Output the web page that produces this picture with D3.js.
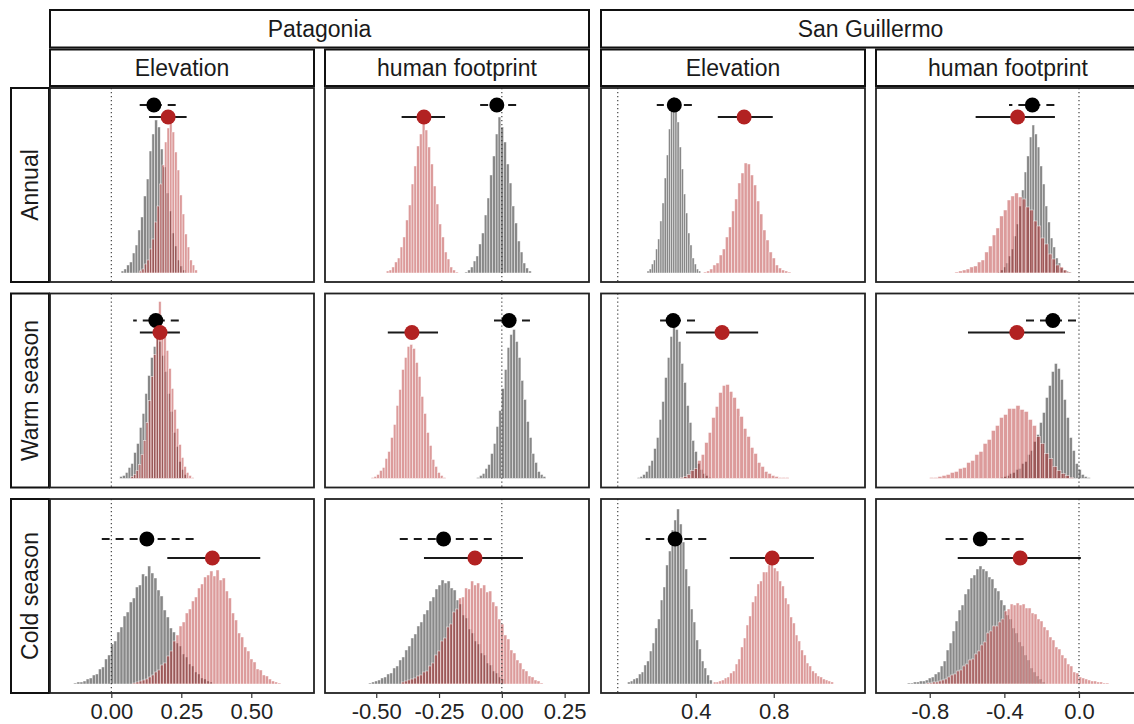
<!DOCTYPE html>
<html><head><meta charset="utf-8">
<script src="https://cdn.jsdelivr.net/npm/d3@7"></script>
<style>body{margin:0;background:#fff} text{font-family:Arial,"Liberation Sans",sans-serif}</style>
</head><body><svg id="c" width="1134" height="724"></svg>
<script>
// ---------------- data ----------------
const regions = ["Patagonia", "San Guillermo"];
const covariates = ["Elevation", "human footprint", "Elevation", "human footprint"];
const seasons = ["Annual", "Warm season", "Cold season"];
const colDomains = [[-0.219, 0.724], [-0.704, 0.347], [-0.086, 1.268], [-1.088, 0.327]];
const colTicks = [[0, 0.25, 0.5], [-0.5, -0.25, 0, 0.25], [0.4, 0.8], [-0.8, -0.4, 0]];
const colTickLabels = [["0.00", "0.25", "0.50"], ["-0.50", "-0.25", "0.00", "0.25"], ["0.4", "0.8"], ["-0.8", "-0.4", "0.0"]];
const yMaxCount = 176;

// point estimates [row][col] = [mean, lower, upper]
const blackEst = [
  [[0.152, 0.099, 0.23], [-0.02, -0.091, 0.057], [0.29, 0.20, 0.38], [-0.25, -0.375, -0.132]],
  [[0.159, 0.078, 0.241], [0.029, -0.035, 0.112], [0.284, 0.217, 0.396], [-0.14, -0.29, -0.016]],
  [[0.127, -0.034, 0.294], [-0.232, -0.427, -0.04], [0.294, 0.143, 0.454], [-0.529, -0.74, -0.297]]
];
const redEst = [
  [[0.203, 0.135, 0.269], [-0.31, -0.399, -0.226], [0.648, 0.513, 0.795], [-0.329, -0.554, -0.129]],
  [[0.174, 0.102, 0.245], [-0.358, -0.454, -0.254], [0.535, 0.35, 0.72], [-0.333, -0.595, -0.075]],
  [[0.361, 0.2, 0.532], [-0.107, -0.31, 0.084], [0.792, 0.575, 1.006], [-0.315, -0.65, 0.01]]
];
// vertical position (count units) of the estimate markers per row
const blackPointY = [168, 158, 145];
const redPointY = [156, 146, 126];

// histograms: bin start, bin width, counts
const blackHist = [
  [
    {start: 0.035, width: 0.01, counts: [2,4,8,11,20,28,43,56,77,94,122,139,153,146,124,106,80,62,40,27,13,7,3]},
    {start: -0.147, width: 0.011, counts: [1,3,6,12,17,29,40,58,75,98,117,139,156,146,131,109,90,67,50,32,21,10,5,2]},
    {start: 0.15, width: 0.011, counts: [2,4,9,13,24,34,52,70,95,118,144,162,176,167,151,126,104,79,60,40,28,15,9,4,2]},
    {start: -0.434, width: 0.014, counts: [1,3,6,10,17,24,37,49,67,83,101,117,136,148,139,126,107,89,67,51,35,26,15,10,5,3,2,1]}
  ],
  [
    {start: 0.03, width: 0.01, counts: [2,3,6,11,15,26,35,51,65,85,103,121,132,140,137,123,107,85,67,46,32,17,9,4]},
    {start: -0.10, width: 0.011, counts: [1,3,5,10,14,25,35,52,68,90,109,131,144,149,137,121,98,79,57,41,25,16,7,4,2]},
    {start: 0.10, width: 0.014, counts: [1,2,4,7,13,18,30,41,59,77,101,121,142,154,149,137,115,96,73,56,38,27,15,9,5,3,1]},
    {start: -0.42, width: 0.016, counts: [1,2,3,5,6,9,10,15,17,24,28,37,44,56,66,81,93,107,115,110,99,79,61,41,28,15,9,4,2,1]}
  ],
  [
    {start: -0.134, width: 0.011, counts: [1,2,2,3,5,6,9,10,15,17,25,29,40,43,52,57,68,72,82,86,97,99,110,108,118,111,106,94,88,74,67,56,52,41,38,30,27,20,18,12,10,6,5,3,2]},
    {start: -0.53, width: 0.012, counts: [1,2,3,4,6,7,10,11,16,18,24,27,34,38,46,50,58,62,70,74,83,87,95,99,104,101,103,96,94,84,80,69,66,55,51,43,40,31,29,21,19,13,11,7,5]},
    {start: 0.05, width: 0.014, counts: [2,3,5,6,10,12,19,23,33,41,56,65,84,97,119,133,154,164,175,160,142,115,98,75,62,44,35,23,16,9,4]},
    {start: -0.92, width: 0.016, counts: [1,1,2,2,3,3,4,6,7,10,12,18,23,34,41,53,63,74,79,90,95,106,109,115,118,115,113,107,105,96,93,84,79,69,65,56,51,42,38,29,24,16,12,8,5,2]}
  ]
];
const redHist = [
  [
    {start: 0.10, width: 0.009, counts: [2,4,9,13,24,34,51,67,89,108,131,145,150,141,121,103,78,59,39,26,13,8,3]},
    {start: -0.46, width: 0.011, counts: [2,3,6,11,15,26,36,53,68,89,107,127,139,158,143,126,109,87,69,49,36,21,14,6,3,1]},
    {start: 0.44, width: 0.016, counts: [1,2,4,8,10,18,24,36,46,62,74,90,100,110,109,98,88,72,59,43,33,21,15,8,5,3,2,1]},
    {start: -0.665, width: 0.02, counts: [1,2,3,4,6,7,11,13,21,27,38,45,57,63,73,77,80,76,74,66,63,52,47,35,29,19,14,8,6,3,1]}
  ],
  [
    {start: 0.07, width: 0.009, counts: [2,4,8,14,24,38,56,78,102,124,140,177,146,142,128,110,90,69,50,34,21,12,6,3,1]},
    {start: -0.52, width: 0.011, counts: [1,2,4,8,11,20,27,41,54,73,89,109,121,132,134,130,116,102,82,65,46,33,19,12,6,3,1]},
    {start: 0.32, width: 0.018, counts: [1,2,4,8,10,18,24,36,46,61,72,86,93,94,87,81,70,62,50,42,31,25,16,12,7,5,3,2,1,1,1]},
    {start: -0.80, width: 0.022, counts: [1,1,2,3,4,6,7,10,11,16,18,24,27,35,39,48,53,61,64,70,70,73,69,67,59,53,42,35,25,20,12,8,5,3,1]}
  ],
  [
    {start: 0.077, width: 0.011, counts: [1,2,3,4,5,7,9,12,14,19,21,28,33,43,49,58,62,71,75,83,87,96,100,107,109,113,108,114,104,106,93,86,71,64,51,47,37,33,25,22,15,14,9,8,5,3,2,1]},
    {start: -0.40, width: 0.012, counts: [2,3,4,5,6,8,9,12,13,18,21,29,33,43,46,57,60,72,75,86,87,96,95,103,99,101,96,99,92,93,82,78,65,60,49,45,34,31,24,21,15,13,8,7,4,3,1]},
    {start: 0.49, width: 0.014, counts: [2,2,3,4,6,7,11,13,20,25,37,46,59,68,82,88,100,103,112,112,119,120,116,113,103,98,86,80,67,61,49,43,34,29,21,18,13,11,8,7,5,4,3,2]},
    {start: -0.817, width: 0.016, counts: [1,1,2,2,3,4,5,7,9,10,13,14,18,20,24,25,30,33,39,42,51,53,58,58,62,65,73,75,80,79,81,79,80,76,76,71,70,65,63,57,54,47,44,37,35,29,26,20,18,12,11,7,6,5,4,3,3,2,2,1,1]}
  ]
];

// ---------------- layout ----------------
const colX = [[50, 314], [325, 589], [601, 865], [876, 1140]];
const rowY = [[88, 282], [293.5, 487.5], [499, 693]];
const stripFont = 23, tickFont = 22;
const blackFill = "#111111", redFill = "#B22222";

const svg = d3.select("#c");
const defs = svg.append("defs");

// region strips
regions.forEach((reg, i) => {
  const x0 = colX[i * 2][0], x1 = colX[i * 2 + 1][1];
  svg.append("rect").attr("x", x0).attr("y", 10).attr("width", x1 - x0).attr("height", 37.5)
    .attr("fill", "#fff").attr("stroke", "#111").attr("stroke-width", 2);
  svg.append("text").attr("x", (x0 + x1) / 2).attr("y", 29).attr("dy", "0.35em")
    .attr("text-anchor", "middle").attr("font-size", stripFont).attr("fill", "#1a1a1a").text(reg);
});
// covariate strips
covariates.forEach((cv, c) => {
  const [x0, x1] = colX[c];
  svg.append("rect").attr("x", x0).attr("y", 49.5).attr("width", x1 - x0).attr("height", 36.5)
    .attr("fill", "#fff").attr("stroke", "#111").attr("stroke-width", 2);
  svg.append("text").attr("x", (x0 + x1) / 2).attr("y", 68).attr("dy", "0.35em")
    .attr("text-anchor", "middle").attr("font-size", stripFont).attr("fill", "#1a1a1a").text(cv);
});
// season strips
seasons.forEach((s, r) => {
  const [y0, y1] = rowY[r];
  svg.append("rect").attr("x", 11).attr("y", y0).attr("width", 38).attr("height", y1 - y0)
    .attr("fill", "#fff").attr("stroke", "#111").attr("stroke-width", 2);
  svg.append("text").attr("transform", `translate(30,${(y0 + y1) / 2}) rotate(-90)`)
    .attr("dy", "0.35em").attr("text-anchor", "middle").attr("font-size", stripFont)
    .attr("fill", "#1a1a1a").text(s);
});

function drawHist(g, h, xs, ys, fill, op) {
  g.append("g").selectAll("rect").data(h.counts).join("rect")
    .attr("x", (d, i) => xs(h.start + i * h.width))
    .attr("width", (d, i) => Math.max(0.5, xs(h.start + (i + 1) * h.width) - xs(h.start + i * h.width)))
    .attr("y", d => ys(d))
    .attr("height", d => ys(0) - ys(d))
    .attr("fill", fill).attr("fill-opacity", op)
    .attr("stroke", "#fff").attr("stroke-width", 0.6).attr("stroke-opacity", 0.75);
}

for (let r = 0; r < 3; r++) {
  for (let c = 0; c < 4; c++) {
    const [x0, x1] = colX[c];
    const [y0, y1] = rowY[r];
    const xs = d3.scaleLinear().domain(colDomains[c]).range([x0, x1]);
    const ys = d3.scaleLinear().domain([0, yMaxCount]).range([y1 - 9, y0 + 9]);
    const id = `clip-${r}-${c}`;
    defs.append("clipPath").attr("id", id).append("rect")
      .attr("x", x0).attr("y", y0).attr("width", x1 - x0).attr("height", y1 - y0);
    const g = svg.append("g").attr("clip-path", `url(#${id})`);
    g.append("rect").attr("x", x0).attr("y", y0).attr("width", x1 - x0).attr("height", y1 - y0).attr("fill", "#fff");

    drawHist(g, blackHist[r][c], xs, ys, blackFill, 0.5);
    drawHist(g, redHist[r][c], xs, ys, redFill, 0.45);

    // zero reference
    g.append("line").attr("x1", xs(0)).attr("x2", xs(0)).attr("y1", y0).attr("y2", y1)
      .attr("stroke", "#333").attr("stroke-width", 1.1).attr("stroke-dasharray", "1.2,2.8");

    const b = blackEst[r][c], rd = redEst[r][c];
    g.append("line").attr("x1", xs(b[2])).attr("x2", xs(b[1]))
      .attr("y1", ys(blackPointY[r])).attr("y2", ys(blackPointY[r]))
      .attr("stroke", "#1a1a1a").attr("stroke-width", 2.2).attr("stroke-dasharray", "8,6");
    g.append("line").attr("x1", xs(rd[1])).attr("x2", xs(rd[2]))
      .attr("y1", ys(redPointY[r])).attr("y2", ys(redPointY[r]))
      .attr("stroke", "#1a1a1a").attr("stroke-width", 2.2);
    g.append("circle").attr("cx", xs(b[0])).attr("cy", ys(blackPointY[r])).attr("r", 7.5).attr("fill", "#000");
    g.append("circle").attr("cx", xs(rd[0])).attr("cy", ys(redPointY[r])).attr("r", 7.5).attr("fill", redFill);

    svg.append("rect").attr("x", x0).attr("y", y0).attr("width", x1 - x0).attr("height", y1 - y0)
      .attr("fill", "none").attr("stroke", "#222").attr("stroke-width", 1.8);

    if (r === 2) {
      const ax = svg.append("g").attr("transform", `translate(0,${y1})`);
      const axis = d3.axisBottom(xs).tickValues(colTicks[c])
        .tickFormat((d, i) => colTickLabels[c][i]).tickSize(5).tickPadding(5);
      ax.call(axis);
      ax.select(".domain").remove();
      ax.selectAll(".tick line").attr("stroke", "#333").attr("stroke-width", 1.2);
      ax.selectAll(".tick text").attr("font-size", tickFont).attr("fill", "#222")
        .attr("font-family", "Arial, 'Liberation Sans', sans-serif");
    }
  }
}
</script>
</body></html>
